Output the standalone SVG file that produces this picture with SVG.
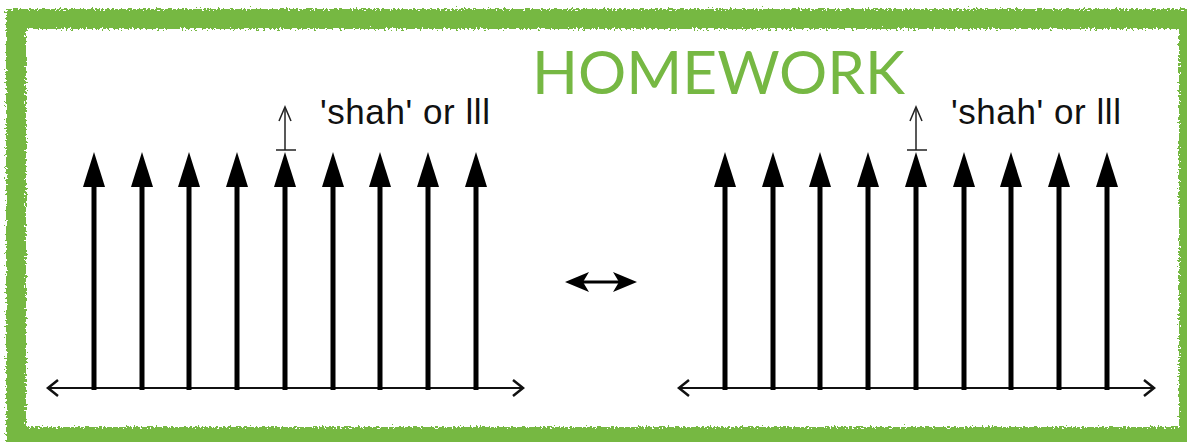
<svg xmlns="http://www.w3.org/2000/svg" xmlns:xlink="http://www.w3.org/1999/xlink" width="1187" height="442" viewBox="0 0 1187 442">
<style>
.shaft{stroke:#000;stroke-width:5;fill:none}
.head{fill:#000}
.axis{stroke:#111;stroke-width:2;fill:none}
.chev{stroke:#111;stroke-width:2.5;fill:none;stroke-linejoin:miter}
.thin{stroke:#222;stroke-width:1.5;fill:none}
.lbl{font-family:"Liberation Sans",Arial,sans-serif;font-size:35px;fill:#111}
.title{font-family:Lato,"Open Sans",sans-serif;font-size:60px;fill:#76b843}
</style>
<defs>
<filter id="rough" x="-5%" y="-5%" width="110%" height="110%">
<feTurbulence type="fractalNoise" baseFrequency="0.5" numOctaves="3" seed="3" result="n"/>
<feDisplacementMap in="SourceGraphic" in2="n" scale="8" xChannelSelector="R" yChannelSelector="G"/>
</filter>
<g id="spike">
<line class="shaft" x1="0" y1="184" x2="0" y2="390"/>
<polygon class="head" points="0,152 -11,187 11,187"/>
</g>
<g id="plot">
<line class="axis" x1="49" y1="388" x2="522" y2="388"/>
<polyline class="chev" points="58,380 48,388 58,396"/>
<polyline class="chev" points="513,380 523,388 513,396"/>
<use xlink:href="#spike" x="94"/>
<use xlink:href="#spike" x="142"/>
<use xlink:href="#spike" x="189"/>
<use xlink:href="#spike" x="237"/>
<use xlink:href="#spike" x="285"/>
<use xlink:href="#spike" x="333"/>
<use xlink:href="#spike" x="380"/>
<use xlink:href="#spike" x="428"/>
<use xlink:href="#spike" x="476"/>
<line class="thin" x1="285" y1="150" x2="285" y2="108"/>
<polyline class="thin" points="279,121 285,107 291,121"/>
<line class="thin" x1="276" y1="150" x2="296" y2="150"/>
<text class="lbl" x="320" y="124" textLength="170" lengthAdjust="spacing">'shah' or lll</text>
</g>
</defs>
<rect id="border" x="16" y="19" width="1173" height="418" fill="none" stroke="#76b843" stroke-width="20" filter="url(#rough)"/>
<g id="title"><text class="title" x="532" y="94" textLength="373" lengthAdjust="spacingAndGlyphs">HOMEWORK</text></g>
<g id="left-plot"><use xlink:href="#plot"/></g>
<g id="right-plot"><use xlink:href="#plot" x="631"/></g>
<g id="connectors">
<line x1="574" y1="282" x2="628" y2="282" stroke="#000" stroke-width="3"/>
<polygon points="565,282 589,272 583,282 589,292" fill="#000"/>
<polygon points="637,282 613,272 619,282 613,292" fill="#000"/>
</g>
</svg>
